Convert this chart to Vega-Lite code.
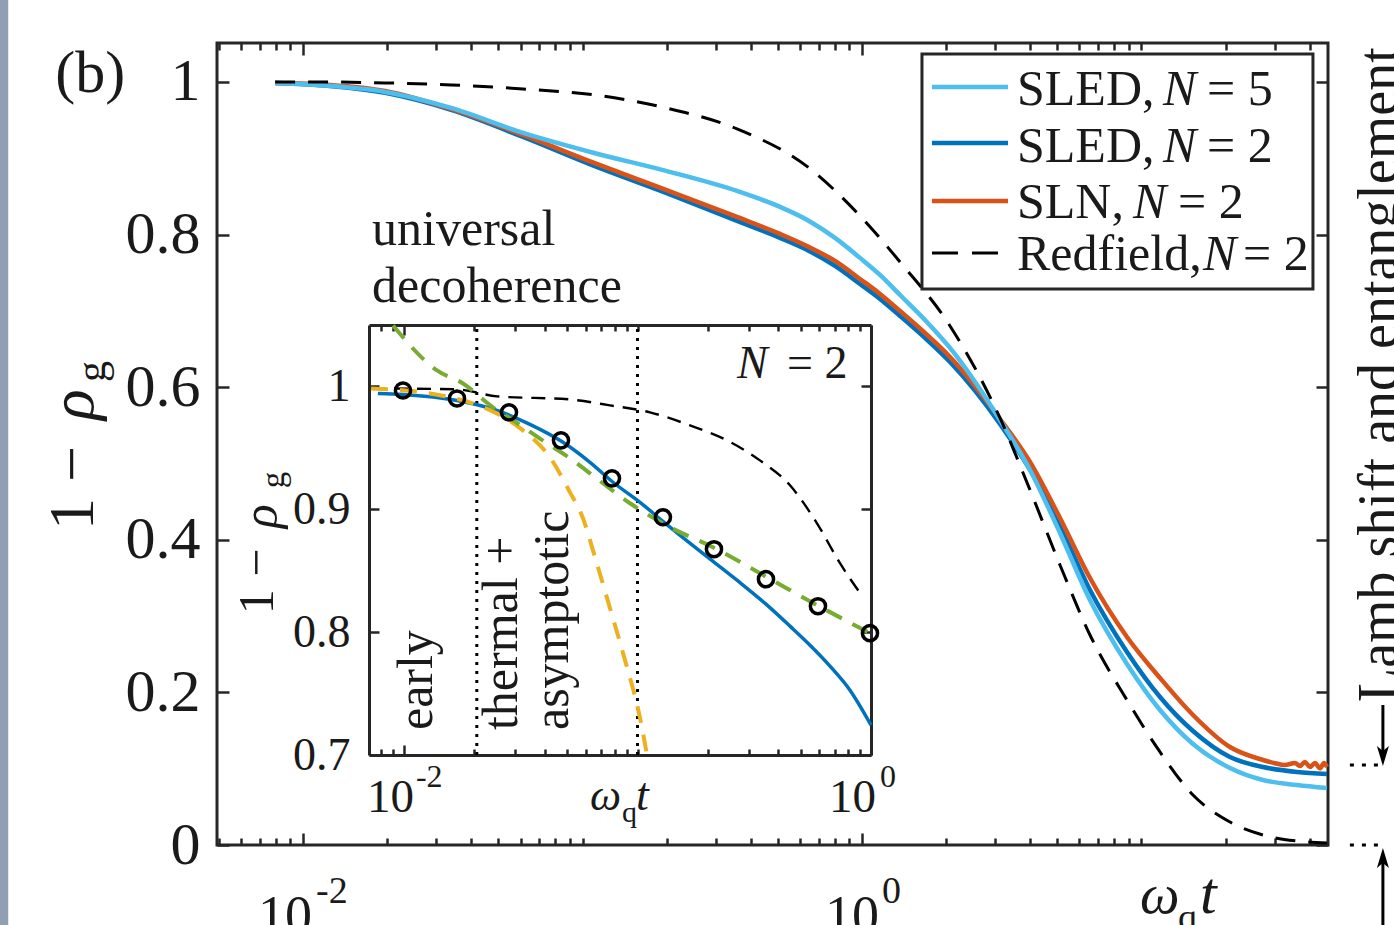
{
  "$schema": "https://vega.github.io/schema/vega-lite/v6.json",
  "width": 1111,
  "height": 802,
  "autosize": {"type": "none"},
  "padding": {"left": 217, "top": 43, "right": 66, "bottom": 80},
  "background": "white",
  "config": {
    "view": {"stroke": "#262626", "strokeWidth": 3},
    "axis": {"grid": false, "domain": false, "labelFont": "Liberation Serif", "labelColor": "#1a1a1a", "tickColor": "#262626", "tickWidth": 2.5, "domainColor": "#262626", "domainWidth": 3},
    "text": {"font": "Liberation Serif", "color": "#1a1a1a"}
  },
  "datasets": {
    "main": [
      {"s": "SLED5", "t": 0.00794, "v": 0.9987}, {"s": "SLED5", "t": 0.01249, "v": 0.9948}, {"s": "SLED5", "t": 0.01965, "v": 0.9869}, {"s": "SLED5", "t": 0.03385, "v": 0.9659}, {"s": "SLED5", "t": 0.06124, "v": 0.9332}, {"s": "SLED5", "t": 0.11, "v": 0.9069}, {"s": "SLED5", "t": 0.1989, "v": 0.8834}, {"s": "SLED5", "t": 0.357, "v": 0.8571}, {"s": "SLED5", "t": 0.5089, "v": 0.8362}, {"s": "SLED5", "t": 0.6462, "v": 0.8178}, {"s": "SLED5", "t": 0.8006, "v": 0.7956}, {"s": "SLED5", "t": 0.9836, "v": 0.7694}, {"s": "SLED5", "t": 1.16, "v": 0.7471}, {"s": "SLED5", "t": 1.368, "v": 0.7208}, {"s": "SLED5", "t": 1.68, "v": 0.6881}, {"s": "SLED5", "t": 2.065, "v": 0.6514}, {"s": "SLED5", "t": 3.117, "v": 0.557}, {"s": "SLED5", "t": 3.991, "v": 0.4915}, {"s": "SLED5", "t": 5.11, "v": 0.4089}, {"s": "SLED5", "t": 6.543, "v": 0.3211}, {"s": "SLED5", "t": 8.874, "v": 0.2372}, {"s": "SLED5", "t": 11.65, "v": 0.1769}, {"s": "SLED5", "t": 15.29, "v": 0.1324}, {"s": "SLED5", "t": 20.73, "v": 0.1009}, {"s": "SLED5", "t": 27.21, "v": 0.0852}, {"s": "SLED5", "t": 36.0, "v": 0.0786}, {"s": "SLED5", "t": 46.1, "v": 0.0747},
      {"s": "SLED2", "t": 0.00794, "v": 0.9987}, {"s": "SLED2", "t": 0.01249, "v": 0.9948}, {"s": "SLED2", "t": 0.01965, "v": 0.9856}, {"s": "SLED2", "t": 0.03385, "v": 0.9633}, {"s": "SLED2", "t": 0.06124, "v": 0.9279}, {"s": "SLED2", "t": 0.11, "v": 0.8899}, {"s": "SLED2", "t": 0.1989, "v": 0.8545}, {"s": "SLED2", "t": 0.357, "v": 0.8178}, {"s": "SLED2", "t": 0.5089, "v": 0.7955}, {"s": "SLED2", "t": 0.6462, "v": 0.7785}, {"s": "SLED2", "t": 0.8006, "v": 0.7588}, {"s": "SLED2", "t": 0.9836, "v": 0.7352}, {"s": "SLED2", "t": 1.16, "v": 0.7156}, {"s": "SLED2", "t": 1.368, "v": 0.6933}, {"s": "SLED2", "t": 1.68, "v": 0.6645}, {"s": "SLED2", "t": 2.065, "v": 0.633}, {"s": "SLED2", "t": 3.117, "v": 0.5518}, {"s": "SLED2", "t": 3.991, "v": 0.4915}, {"s": "SLED2", "t": 5.11, "v": 0.4181}, {"s": "SLED2", "t": 6.543, "v": 0.3342}, {"s": "SLED2", "t": 8.874, "v": 0.253}, {"s": "SLED2", "t": 11.65, "v": 0.194}, {"s": "SLED2", "t": 15.29, "v": 0.1494}, {"s": "SLED2", "t": 20.73, "v": 0.1153}, {"s": "SLED2", "t": 27.21, "v": 0.1022}, {"s": "SLED2", "t": 36.0, "v": 0.0957}, {"s": "SLED2", "t": 46.1, "v": 0.0931},
      {"s": "SLN", "t": 0.00794, "v": 0.9987}, {"s": "SLN", "t": 0.01249, "v": 0.9961}, {"s": "SLN", "t": 0.01965, "v": 0.9882}, {"s": "SLN", "t": 0.03385, "v": 0.9646}, {"s": "SLN", "t": 0.06124, "v": 0.9305}, {"s": "SLN", "t": 0.11, "v": 0.8938}, {"s": "SLN", "t": 0.1989, "v": 0.8585}, {"s": "SLN", "t": 0.357, "v": 0.8231}, {"s": "SLN", "t": 0.5089, "v": 0.8008}, {"s": "SLN", "t": 0.6462, "v": 0.7837}, {"s": "SLN", "t": 0.8006, "v": 0.7654}, {"s": "SLN", "t": 0.9836, "v": 0.7418}, {"s": "SLN", "t": 1.16, "v": 0.7222}, {"s": "SLN", "t": 1.368, "v": 0.6999}, {"s": "SLN", "t": 1.68, "v": 0.671}, {"s": "SLN", "t": 2.065, "v": 0.6396}, {"s": "SLN", "t": 3.117, "v": 0.5583}, {"s": "SLN", "t": 3.991, "v": 0.502}, {"s": "SLN", "t": 5.11, "v": 0.4286}, {"s": "SLN", "t": 6.543, "v": 0.3499}, {"s": "SLN", "t": 8.874, "v": 0.2726}, {"s": "SLN", "t": 11.65, "v": 0.2189}, {"s": "SLN", "t": 15.29, "v": 0.1704}, {"s": "SLN", "t": 20.73, "v": 0.1284}, {"s": "SLN", "t": 27.21, "v": 0.1114}, {"s": "SLN", "t": 30.04, "v": 0.1072}, {"s": "SLN", "t": 32.61, "v": 0.1048}, {"s": "SLN", "t": 35.42, "v": 0.1075}, {"s": "SLN", "t": 36.91, "v": 0.1035}, {"s": "SLN", "t": 38.46, "v": 0.1088}, {"s": "SLN", "t": 40.08, "v": 0.1022}, {"s": "SLN", "t": 41.77, "v": 0.1075}, {"s": "SLN", "t": 43.52, "v": 0.1005}, {"s": "SLN", "t": 44.98, "v": 0.1075}, {"s": "SLN", "t": 46.1, "v": 0.1022},
      {"s": "RED", "t": 0.00794, "v": 1.0}, {"s": "RED", "t": 0.01249, "v": 0.9999}, {"s": "RED", "t": 0.01965, "v": 0.9987}, {"s": "RED", "t": 0.03385, "v": 0.9961}, {"s": "RED", "t": 0.06124, "v": 0.9908}, {"s": "RED", "t": 0.11, "v": 0.983}, {"s": "RED", "t": 0.1989, "v": 0.9659}, {"s": "RED", "t": 0.357, "v": 0.9384}, {"s": "RED", "t": 0.6462, "v": 0.8873}, {"s": "RED", "t": 0.9836, "v": 0.8244}, {"s": "RED", "t": 1.368, "v": 0.7641}, {"s": "RED", "t": 2.065, "v": 0.6802}, {"s": "RED", "t": 3.117, "v": 0.5596}, {"s": "RED", "t": 3.991, "v": 0.4653}, {"s": "RED", "t": 5.11, "v": 0.367}, {"s": "RED", "t": 6.543, "v": 0.2752}, {"s": "RED", "t": 8.874, "v": 0.19}, {"s": "RED", "t": 11.65, "v": 0.1219}, {"s": "RED", "t": 15.29, "v": 0.0655}, {"s": "RED", "t": 20.73, "v": 0.0301}, {"s": "RED", "t": 27.21, "v": 0.0131}, {"s": "RED", "t": 36.0, "v": 0.0052}, {"s": "RED", "t": 46.1, "v": 0.0026}
    ],
    "inset": [
      {"s": "SLED2", "t": 0.00773, "v": 0.9943}, {"s": "SLED2", "t": 0.0099, "v": 0.9935}, {"s": "SLED2", "t": 0.01686, "v": 0.9886}, {"s": "SLED2", "t": 0.02501, "v": 0.9805}, {"s": "SLED2", "t": 0.03463, "v": 0.9691}, {"s": "SLED2", "t": 0.04795, "v": 0.9545}, {"s": "SLED2", "t": 0.06258, "v": 0.9382}, {"s": "SLED2", "t": 0.07852, "v": 0.922}, {"s": "SLED2", "t": 0.1025, "v": 0.9057}, {"s": "SLED2", "t": 0.1285, "v": 0.8902}, {"s": "SLED2", "t": 0.1852, "v": 0.8659}, {"s": "SLED2", "t": 0.2667, "v": 0.8423}, {"s": "SLED2", "t": 0.355, "v": 0.8228}, {"s": "SLED2", "t": 0.4498, "v": 0.8049}, {"s": "SLED2", "t": 0.5481, "v": 0.7894}, {"s": "SLED2", "t": 0.6674, "v": 0.7724}, {"s": "SLED2", "t": 0.8128, "v": 0.7528}, {"s": "SLED2", "t": 1.0, "v": 0.7244},
      {"s": "RED", "t": 0.007222, "v": 0.9984}, {"s": "RED", "t": 0.01686, "v": 0.9976}, {"s": "RED", "t": 0.02501, "v": 0.9919}, {"s": "RED", "t": 0.05138, "v": 0.9894}, {"s": "RED", "t": 0.07623, "v": 0.9846}, {"s": "RED", "t": 0.1131, "v": 0.9789}, {"s": "RED", "t": 0.1678, "v": 0.9683}, {"s": "RED", "t": 0.2416, "v": 0.9561}, {"s": "RED", "t": 0.3345, "v": 0.9398}, {"s": "RED", "t": 0.4498, "v": 0.9195}, {"s": "RED", "t": 0.587, "v": 0.8886}, {"s": "RED", "t": 0.7365, "v": 0.8561}, {"s": "RED", "t": 0.9239, "v": 0.8285},
      {"s": "EARLY", "t": 0.007222, "v": 0.9984}, {"s": "EARLY", "t": 0.01291, "v": 0.9943}, {"s": "EARLY", "t": 0.01789, "v": 0.9886}, {"s": "EARLY", "t": 0.02501, "v": 0.978}, {"s": "EARLY", "t": 0.03232, "v": 0.9642}, {"s": "EARLY", "t": 0.04218, "v": 0.9423}, {"s": "EARLY", "t": 0.05138, "v": 0.9138}, {"s": "EARLY", "t": 0.05841, "v": 0.8927}, {"s": "EARLY", "t": 0.06575, "v": 0.861}, {"s": "EARLY", "t": 0.07623, "v": 0.8195}, {"s": "EARLY", "t": 0.08838, "v": 0.7772}, {"s": "EARLY", "t": 0.1025, "v": 0.7301}, {"s": "EARLY", "t": 0.1098, "v": 0.7},
      {"s": "ASYM", "t": 0.00897, "v": 1.0496}, {"s": "ASYM", "t": 0.01384, "v": 1.013}, {"s": "ASYM", "t": 0.01789, "v": 1.0024}, {"s": "ASYM", "t": 0.02404, "v": 0.9829}, {"s": "ASYM", "t": 0.02929, "v": 0.9724}, {"s": "ASYM", "t": 0.04095, "v": 0.9537}, {"s": "ASYM", "t": 0.05138, "v": 0.9415}, {"s": "ASYM", "t": 0.06258, "v": 0.9293}, {"s": "ASYM", "t": 0.09286, "v": 0.9049}, {"s": "ASYM", "t": 0.1378, "v": 0.8854}, {"s": "ASYM", "t": 0.2104, "v": 0.8691}, {"s": "ASYM", "t": 0.3585, "v": 0.8447}, {"s": "ASYM", "t": 0.587, "v": 0.822}, {"s": "ASYM", "t": 0.99, "v": 0.7992}
    ],
    "circ": [
      {"t": 0.0099, "v": 0.9967}, {"t": 0.01686, "v": 0.9902}, {"t": 0.02816, "v": 0.9789}, {"t": 0.04702, "v": 0.9561}, {"t": 0.07774, "v": 0.9252}, {"t": 0.1285, "v": 0.8935}, {"t": 0.2126, "v": 0.8675}, {"t": 0.355, "v": 0.8431}, {"t": 0.5928, "v": 0.8211}, {"t": 0.99, "v": 0.7992}
    ]
  },
  "layer": [
    {
      "layer": [
        {
          "data": {"name": "main"},
          "transform": [{"filter": "datum.s == 'SLED2'"}],
          "mark": {"type": "line", "color": "#0072BD", "strokeWidth": 4.5, "interpolate": "monotone"},
          "encoding": {
            "x": {"field": "t", "type": "quantitative", "scale": {"type": "log", "domain": [0.00492, 46.5], "nice": false}, "axis": {"orient": "bottom", "values": [0.01, 1], "labels": false, "tickSize": -12, "domain": false, "title": null}},
            "y": {"field": "v", "type": "quantitative", "scale": {"domain": [0, 1.051], "nice": false, "zero": false}, "axis": {"orient": "left", "values": [0, 0.2, 0.4, 0.6, 0.8, 1], "format": "~g", "ticks": false, "tickSize": 0, "labelPadding": 17, "labelFontSize": 60, "domain": false, "title": null}}
          }
        },
        {
          "data": {"name": "main"},
          "transform": [{"filter": "datum.s == 'SLN'"}],
          "mark": {"type": "line", "color": "#D95319", "strokeWidth": 4.5, "interpolate": "monotone"},
          "encoding": {"x": {"field": "t", "type": "quantitative"}, "y": {"field": "v", "type": "quantitative"}}
        },
        {
          "data": {"name": "main"},
          "transform": [{"filter": "datum.s == 'SLED5'"}],
          "mark": {"type": "line", "color": "#4DBEEE", "strokeWidth": 4.5, "interpolate": "monotone"},
          "encoding": {"x": {"field": "t", "type": "quantitative"}, "y": {"field": "v", "type": "quantitative"}}
        },
        {
          "data": {"name": "main"},
          "transform": [{"filter": "datum.s == 'RED'"}],
          "mark": {"type": "line", "color": "#000000", "strokeWidth": 3, "strokeDash": [20, 13], "interpolate": "monotone"},
          "encoding": {"x": {"field": "t", "type": "quantitative"}, "y": {"field": "v", "type": "quantitative"}}
        },
        {"data": {"values": [{}]}, "mark": {"type": "rect", "color": "#919fb4"}, "encoding": {"x": {"datum": 0.0008}, "x2": {"datum": 0.000881}, "y": {"datum": 1.2}, "y2": {"datum": -0.2}}},
        {"data": {"values": [{}]}, "mark": {"type": "text", "text": "(b)", "fontSize": 60, "align": "left", "baseline": "alphabetic"}, "encoding": {"x": {"datum": 0.001297}, "y": {"datum": 0.9869}}},
        {"data": {"values": [{}]}, "mark": {"type": "text", "text": "universal", "fontSize": 50, "align": "left", "baseline": "alphabetic"}, "encoding": {"x": {"datum": 0.01766}, "y": {"datum": 0.7864}}},
        {"data": {"values": [{}]}, "mark": {"type": "text", "text": "decoherence", "fontSize": 50, "align": "left", "baseline": "alphabetic"}, "encoding": {"x": {"datum": 0.01766}, "y": {"datum": 0.7117}}},
        {"data": {"values": [{}]}, "mark": {"type": "text", "text": "1 −", "fontSize": 64, "align": "left", "baseline": "alphabetic", "angle": -90}, "encoding": {"x": {"datum": 0.001773}, "y": {"datum": 0.4128}}},
        {"data": {"values": [{}]}, "mark": {"type": "text", "text": "ρ", "fontSize": 64, "fontStyle": "italic", "align": "left", "baseline": "alphabetic", "angle": -90}, "encoding": {"x": {"datum": 0.001773}, "y": {"datum": 0.557}}},
        {"data": {"values": [{}]}, "mark": {"type": "text", "text": "g", "fontSize": 42, "align": "left", "baseline": "alphabetic", "angle": -90}, "encoding": {"x": {"datum": 0.001958}, "y": {"datum": 0.6068}}},
        {"data": {"values": [{}]}, "mark": {"type": "text", "text": "10", "fontSize": 54, "align": "right", "baseline": "alphabetic"}, "encoding": {"x": {"datum": 0.01076}, "y": {"datum": -0.1153}}},
        {"data": {"values": [{}]}, "mark": {"type": "text", "text": "-2", "fontSize": 38, "align": "left", "baseline": "alphabetic"}, "encoding": {"x": {"datum": 0.01113}, "y": {"datum": -0.076}}},
        {"data": {"values": [{}]}, "mark": {"type": "text", "text": "10", "fontSize": 54, "align": "right", "baseline": "alphabetic"}, "encoding": {"x": {"datum": 1.15}, "y": {"datum": -0.1153}}},
        {"data": {"values": [{}]}, "mark": {"type": "text", "text": "0", "fontSize": 38, "align": "left", "baseline": "alphabetic"}, "encoding": {"x": {"datum": 1.179}, "y": {"datum": -0.076}}},
        {"data": {"values": [{}]}, "mark": {"type": "text", "text": "ω", "fontSize": 56, "fontStyle": "italic", "align": "left", "baseline": "alphabetic"}, "encoding": {"x": {"datum": 9.877}, "y": {"datum": -0.0891}}},
        {"data": {"values": [{}]}, "mark": {"type": "text", "text": "q", "fontSize": 38, "align": "left", "baseline": "alphabetic"}, "encoding": {"x": {"datum": 13.51}, "y": {"datum": -0.1114}}},
        {"data": {"values": [{}]}, "mark": {"type": "text", "text": "t", "fontSize": 60, "fontStyle": "italic", "align": "left", "baseline": "alphabetic"}, "encoding": {"x": {"datum": 16.19}, "y": {"datum": -0.0891}}},
        {"data": {"values": [{}]}, "mark": {"type": "text", "text": "Lamb shift and entanglement", "fontSize": 56, "align": "left", "baseline": "alphabetic", "angle": -90}, "encoding": {"x": {"datum": 82.07}, "y": {"datum": 0.1874}}},
        {"data": {"values": [{}]}, "mark": {"type": "rect", "fill": "white", "stroke": "#262626", "strokeWidth": 3}, "encoding": {"x": {"datum": 1.639}, "x2": {"datum": 41.08}, "y": {"datum": 1.0367}, "y2": {"datum": 0.7287}}},
        {"data": {"values": [{}]}, "mark": {"type": "rule", "color": "#4DBEEE", "strokeWidth": 4.5}, "encoding": {"x": {"datum": 1.7795}, "x2": {"datum": 3.33}, "y": {"datum": 0.9934}}},
        {"data": {"values": [{}]}, "mark": {"type": "rule", "color": "#0072BD", "strokeWidth": 4.5}, "encoding": {"x": {"datum": 1.7795}, "x2": {"datum": 3.33}, "y": {"datum": 0.9201}}},
        {"data": {"values": [{}]}, "mark": {"type": "rule", "color": "#D95319", "strokeWidth": 4.5}, "encoding": {"x": {"datum": 1.7795}, "x2": {"datum": 3.33}, "y": {"datum": 0.844}}},
        {"data": {"values": [{}]}, "mark": {"type": "rule", "color": "#000000", "strokeWidth": 3, "strokeDash": [26, 14]}, "encoding": {"x": {"datum": 1.7795}, "x2": {"datum": 3.33}, "y": {"datum": 0.7759}}},
        {"data": {"values": [{}]}, "mark": {"type": "text", "text": "SLED,", "fontSize": 50, "align": "left", "baseline": "alphabetic"}, "encoding": {"x": {"datum": 3.586}, "y": {"datum": 0.9699}}},
        {"data": {"values": [{}]}, "mark": {"type": "text", "text": "N", "fontSize": 50, "fontStyle": "italic", "align": "left", "baseline": "alphabetic"}, "encoding": {"x": {"datum": 11.94}, "y": {"datum": 0.9699}}},
        {"data": {"values": [{}]}, "mark": {"type": "text", "text": "= 5", "fontSize": 50, "align": "left", "baseline": "alphabetic"}, "encoding": {"x": {"datum": 17.15}, "y": {"datum": 0.9699}}},
        {"data": {"values": [{}]}, "mark": {"type": "text", "text": "SLED,", "fontSize": 50, "align": "left", "baseline": "alphabetic"}, "encoding": {"x": {"datum": 3.586}, "y": {"datum": 0.8951}}},
        {"data": {"values": [{}]}, "mark": {"type": "text", "text": "N", "fontSize": 50, "fontStyle": "italic", "align": "left", "baseline": "alphabetic"}, "encoding": {"x": {"datum": 11.94}, "y": {"datum": 0.8951}}},
        {"data": {"values": [{}]}, "mark": {"type": "text", "text": "= 2", "fontSize": 50, "align": "left", "baseline": "alphabetic"}, "encoding": {"x": {"datum": 17.15}, "y": {"datum": 0.8951}}},
        {"data": {"values": [{}]}, "mark": {"type": "text", "text": "SLN,", "fontSize": 50, "align": "left", "baseline": "alphabetic"}, "encoding": {"x": {"datum": 3.586}, "y": {"datum": 0.8218}}},
        {"data": {"values": [{}]}, "mark": {"type": "text", "text": "N", "fontSize": 50, "fontStyle": "italic", "align": "left", "baseline": "alphabetic"}, "encoding": {"x": {"datum": 9.324}, "y": {"datum": 0.8218}}},
        {"data": {"values": [{}]}, "mark": {"type": "text", "text": "= 2", "fontSize": 50, "align": "left", "baseline": "alphabetic"}, "encoding": {"x": {"datum": 13.51}, "y": {"datum": 0.8218}}},
        {"data": {"values": [{}]}, "mark": {"type": "text", "text": "Redfield,", "fontSize": 50, "align": "left", "baseline": "alphabetic"}, "encoding": {"x": {"datum": 3.586}, "y": {"datum": 0.7536}}},
        {"data": {"values": [{}]}, "mark": {"type": "text", "text": "N", "fontSize": 50, "fontStyle": "italic", "align": "left", "baseline": "alphabetic"}, "encoding": {"x": {"datum": 16.6}, "y": {"datum": 0.7536}}},
        {"data": {"values": [{}]}, "mark": {"type": "text", "text": "= 2", "fontSize": 50, "align": "left", "baseline": "alphabetic"}, "encoding": {"x": {"datum": 23.07}, "y": {"datum": 0.7536}}},
        {"data": {"values": [{}]}, "mark": {"type": "rule", "color": "#000000", "strokeWidth": 3, "strokeDash": [4, 8]}, "encoding": {"x": {"datum": 55.7}, "x2": {"datum": 73.1}, "y": {"datum": 0.1048}}},
        {"data": {"values": [{}]}, "mark": {"type": "rule", "color": "#000000", "strokeWidth": 3, "strokeDash": [4, 8]}, "encoding": {"x": {"datum": 55.7}, "x2": {"datum": 73.1}, "y": {"datum": 0.0}}},
        {"data": {"values": [{}]}, "mark": {"type": "rule", "color": "#000000", "strokeWidth": 3}, "encoding": {"x": {"datum": 73.1}, "y": {"datum": 0.1835}, "y2": {"datum": 0.1166}}},
        {"data": {"values": [{}]}, "mark": {"type": "rule", "color": "#000000", "strokeWidth": 3}, "encoding": {"x": {"datum": 73.1}, "y": {"datum": -0.017}, "y2": {"datum": -0.12}}},
        {"data": {"values": [{}]}, "mark": {"type": "point", "shape": "M-0.6,-1L0,1L0.6,-1L0,-0.5Z", "filled": true, "color": "#000000", "opacity": 1, "size": 400}, "encoding": {"x": {"datum": 73.1}, "y": {"datum": 0.1166}}},
        {"data": {"values": [{}]}, "mark": {"type": "point", "shape": "M-0.6,1L0,-1L0.6,1L0,0.5Z", "filled": true, "color": "#000000", "opacity": 1, "size": 400}, "encoding": {"x": {"datum": 73.1}, "y": {"datum": -0.017}}}
      ]
    },
    {
      "data": {"values": [{"t": 1, "v": 0.5}]},
      "mark": {"type": "point", "opacity": 0},
      "encoding": {
        "x": {"field": "t", "type": "quantitative", "scale": {"type": "log", "domain": [0.00492, 46.5], "nice": false}, "axis": {"orient": "bottom", "values": [0.005, 0.006, 0.007, 0.008, 0.009, 0.02, 0.03, 0.04, 0.05, 0.06, 0.07, 0.08, 0.09, 0.1, 0.2, 0.3, 0.4, 0.5, 0.6, 0.7, 0.8, 0.9, 2, 3, 4, 5, 6, 7, 8, 9, 10, 20, 30, 40], "labels": false, "tickSize": -7, "domain": false, "title": null}},
        "y": {"field": "v", "type": "quantitative", "scale": {"domain": [0, 1.051], "nice": false, "zero": false}, "axis": {"orient": "left", "values": [0, 0.2, 0.4, 0.6, 0.8, 1], "labels": false, "tickSize": -12, "domain": false, "title": null}}
      }
    },
    {
      "data": {"values": [{"t": 1, "v": 0.5}]},
      "mark": {"type": "point", "opacity": 0},
      "encoding": {
        "x": {"field": "t", "type": "quantitative", "scale": {"type": "log", "domain": [0.00492, 46.5], "nice": false}, "axis": {"orient": "top", "values": [0.01, 1], "labels": false, "tickSize": -12, "domain": false, "title": null}},
        "y": {"field": "v", "type": "quantitative", "scale": {"domain": [0, 1.051], "nice": false, "zero": false}, "axis": {"orient": "right", "values": [0, 0.2, 0.4, 0.6, 0.8, 1], "labels": false, "tickSize": -12, "domain": false, "title": null}}
      }
    },
    {
      "data": {"values": [{"t": 1}]},
      "mark": {"type": "tick", "opacity": 0},
      "encoding": {
        "x": {"field": "t", "type": "quantitative", "scale": {"type": "log", "domain": [0.00492, 46.5], "nice": false}, "axis": {"orient": "top", "values": [0.005, 0.006, 0.007, 0.008, 0.009, 0.02, 0.03, 0.04, 0.05, 0.06, 0.07, 0.08, 0.09, 0.1, 0.2, 0.3, 0.4, 0.5, 0.6, 0.7, 0.8, 0.9, 2, 3, 4, 5, 6, 7, 8, 9, 10, 20, 30, 40], "labels": false, "tickSize": -7, "domain": false, "title": null}}
      }
    },
    {
      "layer": [
        {
          "data": {"values": [{}]},
          "mark": {"type": "rule", "color": "#000000", "strokeWidth": 3, "strokeDash": [3, 6]},
          "encoding": {
            "x": {"datum": 0.0205, "type": "quantitative", "scale": {"type": "log", "domain": [0.00708, 1.0], "range": [152, 654], "nice": false}, "axis": {"orient": "bottom", "offset": -90, "values": [0.01, 1], "labels": false, "tickSize": -10, "domain": true, "title": null}},
            "y": {"datum": 0.7, "type": "quantitative", "scale": {"domain": [0.7, 1.05], "range": [712, 282], "nice": false, "zero": false}, "axis": {"orient": "left", "offset": -152, "values": [0.7, 0.8, 0.9, 1], "format": "~g", "ticks": false, "tickSize": 0, "labelPadding": 19, "labelFontSize": 46, "domain": true, "title": null}},
            "y2": {"datum": 1.05}
          }
        },
        {"data": {"values": [{}]}, "mark": {"type": "rule", "color": "#000000", "strokeWidth": 3, "strokeDash": [3, 6]}, "encoding": {"x": {"datum": 0.1}, "y": {"datum": 0.7}, "y2": {"datum": 1.05}}},
        {
          "data": {"name": "inset"},
          "transform": [{"filter": "datum.s == 'SLED2'"}],
          "mark": {"type": "line", "color": "#0072BD", "strokeWidth": 3.5, "interpolate": "monotone"},
          "encoding": {"x": {"field": "t", "type": "quantitative"}, "y": {"field": "v", "type": "quantitative"}}
        },
        {
          "data": {"name": "inset"},
          "transform": [{"filter": "datum.s == 'RED'"}],
          "mark": {"type": "line", "color": "#000000", "strokeWidth": 2.4, "strokeDash": [14, 9], "interpolate": "monotone"},
          "encoding": {"x": {"field": "t", "type": "quantitative"}, "y": {"field": "v", "type": "quantitative"}}
        },
        {
          "data": {"name": "inset"},
          "transform": [{"filter": "datum.s == 'EARLY'"}],
          "mark": {"type": "line", "color": "#EDB120", "strokeWidth": 4, "strokeDash": [17, 12], "interpolate": "monotone"},
          "encoding": {"x": {"field": "t", "type": "quantitative"}, "y": {"field": "v", "type": "quantitative"}}
        },
        {
          "data": {"name": "inset"},
          "transform": [{"filter": "datum.s == 'ASYM'"}],
          "mark": {"type": "line", "color": "#77AC30", "strokeWidth": 4, "strokeDash": [17, 12], "interpolate": "monotone"},
          "encoding": {"x": {"field": "t", "type": "quantitative"}, "y": {"field": "v", "type": "quantitative"}}
        },
        {
          "data": {"name": "circ"},
          "mark": {"type": "point", "shape": "circle", "filled": false, "stroke": "#000000", "strokeWidth": 3.5, "size": 230, "opacity": 1},
          "encoding": {"x": {"field": "t", "type": "quantitative"}, "y": {"field": "v", "type": "quantitative"}}
        },
        {"data": {"values": [{}]}, "mark": {"type": "text", "text": "early", "fontSize": 50, "align": "left", "baseline": "alphabetic", "angle": -90}, "encoding": {"x": {"datum": 0.01318}, "y": {"datum": 0.7203}}},
        {"data": {"values": [{}]}, "mark": {"type": "text", "text": "thermal +", "fontSize": 50, "align": "left", "baseline": "alphabetic", "angle": -90}, "encoding": {"x": {"datum": 0.03047}, "y": {"datum": 0.7203}}},
        {"data": {"values": [{}]}, "mark": {"type": "text", "text": "asymptotic", "fontSize": 50, "align": "left", "baseline": "alphabetic", "angle": -90}, "encoding": {"x": {"datum": 0.05039}, "y": {"datum": 0.7203}}},
        {"data": {"values": [{}]}, "mark": {"type": "text", "text": "N", "fontSize": 46, "fontStyle": "italic", "align": "left", "baseline": "alphabetic"}, "encoding": {"x": {"datum": 0.2667}, "y": {"datum": 1.0065}}},
        {"data": {"values": [{}]}, "mark": {"type": "text", "text": "= 2", "fontSize": 46, "align": "left", "baseline": "alphabetic"}, "encoding": {"x": {"datum": 0.4366}, "y": {"datum": 1.0065}}},
        {"data": {"values": [{}]}, "mark": {"type": "text", "text": "1 −", "fontSize": 50, "align": "left", "baseline": "alphabetic", "angle": -90}, "encoding": {"x": {"datum": 0.002748}, "y": {"datum": 0.8146}}},
        {"data": {"values": [{}]}, "mark": {"type": "text", "text": "ρ", "fontSize": 50, "fontStyle": "italic", "align": "left", "baseline": "alphabetic", "angle": -90}, "encoding": {"x": {"datum": 0.002858}, "y": {"datum": 0.8846}}},
        {"data": {"values": [{}]}, "mark": {"type": "text", "text": "g", "fontSize": 33, "align": "left", "baseline": "alphabetic", "angle": -90}, "encoding": {"x": {"datum": 0.003062}, "y": {"datum": 0.9171}}},
        {"data": {"values": [{}]}, "mark": {"type": "text", "text": "10", "fontSize": 47, "align": "right", "baseline": "alphabetic"}, "encoding": {"x": {"datum": 0.01103}, "y": {"datum": 0.6537}}},
        {"data": {"values": [{}]}, "mark": {"type": "text", "text": "-2", "fontSize": 32, "align": "left", "baseline": "alphabetic"}, "encoding": {"x": {"datum": 0.01125}, "y": {"datum": 0.674}}},
        {"data": {"values": [{}]}, "mark": {"type": "text", "text": "10", "fontSize": 47, "align": "right", "baseline": "alphabetic"}, "encoding": {"x": {"datum": 1.05}, "y": {"datum": 0.6537}}},
        {"data": {"values": [{}]}, "mark": {"type": "text", "text": "0", "fontSize": 32, "align": "left", "baseline": "alphabetic"}, "encoding": {"x": {"datum": 1.093}, "y": {"datum": 0.674}}},
        {"data": {"values": [{}]}, "mark": {"type": "text", "text": "ω", "fontSize": 44, "fontStyle": "italic", "align": "left", "baseline": "alphabetic"}, "encoding": {"x": {"datum": 0.06258}, "y": {"datum": 0.6553}}},
        {"data": {"values": [{}]}, "mark": {"type": "text", "text": "q", "fontSize": 30, "align": "left", "baseline": "alphabetic"}, "encoding": {"x": {"datum": 0.0858}, "y": {"datum": 0.6455}}},
        {"data": {"values": [{}]}, "mark": {"type": "text", "text": "t", "fontSize": 46, "fontStyle": "italic", "align": "left", "baseline": "alphabetic"}, "encoding": {"x": {"datum": 0.09851}, "y": {"datum": 0.6553}}}
      ]
    },
    {
      "data": {"values": [{"t": 0.1, "v": 0.8}]},
      "mark": {"type": "point", "opacity": 0},
      "encoding": {
        "x": {"field": "t", "type": "quantitative", "scale": {"type": "log", "domain": [0.00708, 1.0], "range": [152, 654], "nice": false}, "axis": {"orient": "bottom", "offset": -90, "values": [0.008, 0.009, 0.02, 0.03, 0.04, 0.05, 0.06, 0.07, 0.08, 0.09, 0.1, 0.2, 0.3, 0.4, 0.5, 0.6, 0.7, 0.8, 0.9], "labels": false, "tickSize": -6, "domain": false, "title": null}},
        "y": {"field": "v", "type": "quantitative", "scale": {"domain": [0.7, 1.05], "range": [712, 282], "nice": false, "zero": false}, "axis": {"orient": "left", "offset": -152, "values": [0.7, 0.8, 0.9, 1], "labels": false, "tickSize": -10, "domain": false, "title": null}}
      }
    },
    {
      "data": {"values": [{"t": 0.1, "v": 0.8}]},
      "mark": {"type": "point", "opacity": 0},
      "encoding": {
        "x": {"field": "t", "type": "quantitative", "scale": {"type": "log", "domain": [0.00708, 1.0], "range": [152, 654], "nice": false}, "axis": {"orient": "top", "offset": -282, "values": [0.01, 1], "labels": false, "tickSize": -10, "domain": true, "title": null}},
        "y": {"field": "v", "type": "quantitative", "scale": {"domain": [0.7, 1.05], "range": [712, 282], "nice": false, "zero": false}, "axis": {"orient": "right", "offset": -457, "values": [0.7, 0.8, 0.9, 1], "labels": false, "tickSize": -10, "domain": true, "title": null}}
      }
    },
    {
      "data": {"values": [{"t": 0.1}]},
      "mark": {"type": "tick", "opacity": 0},
      "encoding": {
        "x": {"field": "t", "type": "quantitative", "scale": {"type": "log", "domain": [0.00708, 1.0], "range": [152, 654], "nice": false}, "axis": {"orient": "top", "offset": -282, "values": [0.008, 0.009, 0.02, 0.03, 0.04, 0.05, 0.06, 0.07, 0.08, 0.09, 0.1, 0.2, 0.3, 0.4, 0.5, 0.6, 0.7, 0.8, 0.9], "labels": false, "tickSize": -6, "domain": false, "title": null}}
      }
    }
  ],
  "resolve": {"scale": {"x": "independent", "y": "independent"}}
}
